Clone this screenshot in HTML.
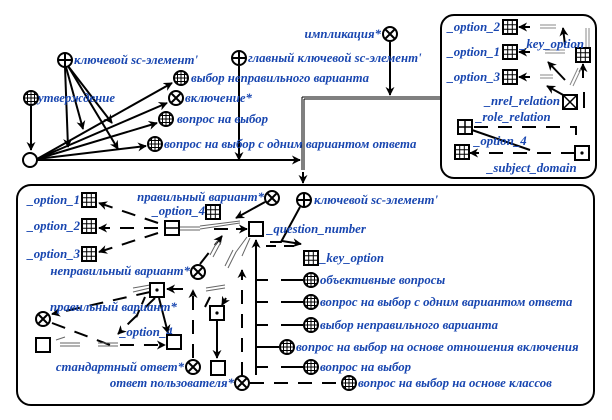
<!DOCTYPE html>
<html><head><meta charset="utf-8"><style>
html,body{margin:0;padding:0;background:#fff;width:612px;height:420px;overflow:hidden}
text{font-family:"Liberation Serif",serif;font-style:italic;font-weight:bold;font-size:12.8px;fill:#1846b0}
</style></head><body>
<svg width="612" height="420" viewBox="0 0 612 420" xmlns="http://www.w3.org/2000/svg">
<defs>
<marker id="a" viewBox="0 0 10 10" refX="9" refY="5" markerWidth="9" markerHeight="9" orient="auto" markerUnits="userSpaceOnUse"><path d="M0,0 L10,5 L0,10 L3,5 z" fill="#000"/></marker>
<clipPath id="cc"><circle r="7"/></clipPath>
<g id="gc"><circle r="7" fill="#fff" stroke="#000" stroke-width="2"/><g clip-path="url(#cc)" stroke="#000" stroke-width="1"><path d="M-7,-3.5H7M-7,0H7M-7,3.5H7M-3.5,-7V7M0,-7V7M3.5,-7V7"/></g></g>
<g id="xc"><circle r="7" fill="#fff" stroke="#000" stroke-width="2"/><path d="M-4.5,-4.5L4.5,4.5M4.5,-4.5L-4.5,4.5" stroke="#000" stroke-width="2"/></g>
<g id="pc"><circle r="7" fill="#fff" stroke="#000" stroke-width="2"/><path d="M-7,0H7M0,-7V7" stroke="#000" stroke-width="2"/></g>
<g id="gs"><rect x="-7" y="-7" width="14" height="14" fill="#fff" stroke="#000" stroke-width="2"/><path d="M-7,-2.3H7M-7,2.3H7M-2.3,-7V7M2.3,-7V7" stroke="#000" stroke-width="1"/></g>
<g id="es"><rect x="-7" y="-7" width="14" height="14" fill="#fff" stroke="#000" stroke-width="2"/></g>
<g id="ds"><rect x="-7" y="-7" width="14" height="14" fill="#fff" stroke="#000" stroke-width="2"/><circle r="1.6" fill="#000"/></g>
<g id="xs"><rect x="-7" y="-7" width="14" height="14" fill="#fff" stroke="#000" stroke-width="2"/><path d="M-7,-7L7,7M7,-7L-7,7" stroke="#000" stroke-width="1.5"/></g>
<g id="s4"><rect x="-7" y="-7" width="14" height="14" fill="#fff" stroke="#000" stroke-width="2"/><path d="M-7,0H7M0,-7V7" stroke="#000" stroke-width="1.5"/></g>
<g id="hs"><rect x="-7" y="-7" width="14" height="14" fill="#fff" stroke="#000" stroke-width="2"/><path d="M-7,0H7" stroke="#000" stroke-width="1.5"/></g>
</defs>

<g stroke="#000" stroke-width="2" fill="none">
<line x1="31" y1="106" x2="31" y2="150" marker-end="url(#a)"/>
<line x1="37" y1="160" x2="300" y2="160" marker-end="url(#a)"/>
<line x1="37" y1="159" x2="172" y2="83" marker-end="url(#a)"/>
<line x1="37" y1="159" x2="167" y2="103" marker-end="url(#a)"/>
<line x1="37" y1="159" x2="157" y2="123" marker-end="url(#a)"/>
<line x1="37" y1="159" x2="146" y2="146" marker-end="url(#a)"/>
<line x1="65" y1="67" x2="68" y2="147" marker-end="url(#a)"/>
<line x1="66" y1="67" x2="83" y2="129" marker-end="url(#a)"/>
<line x1="68" y1="66" x2="112" y2="123" marker-end="url(#a)"/>
<line x1="68" y1="66" x2="118" y2="149" marker-end="url(#a)"/>
<line x1="239" y1="66" x2="239" y2="160" marker-end="url(#a)"/>
<line x1="390" y1="42" x2="390" y2="95" marker-end="url(#a)"/>
</g>
<path d="M302,97 H440 M304,99 H440 M302,97 V170 M304,99 V170" stroke="#000" stroke-width="1" fill="none"/>
<path d="M303,172 V183" stroke="#000" stroke-width="2" marker-end="url(#a)"/>

<use href="#pc" transform="translate(65,60)"/><text x="74" y="64">ключевой sc-элемент'</text>
<use href="#gc" transform="translate(31,98)"/><text x="38" y="102">утверждение</text>
<circle cx="30" cy="160" r="7" fill="#fff" stroke="#000" stroke-width="2"/>
<use href="#pc" transform="translate(239,58)"/><text x="248" y="62">главный ключевой sc-элемент'</text>
<use href="#xc" transform="translate(390,34)"/><text x="381" y="38" text-anchor="end">импликация*</text>
<use href="#gc" transform="translate(181,78)"/><text x="191" y="82">выбор неправильного варианта</text>
<use href="#xc" transform="translate(176,98)"/><text x="185" y="102">включение*</text>
<use href="#gc" transform="translate(166,119)"/><text x="177" y="123">вопрос на выбор</text>
<use href="#gc" transform="translate(155,144)"/><text x="164" y="148">вопрос на выбор с одним вариантом ответа</text>

<rect x="441" y="15" width="155" height="163" rx="13" fill="none" stroke="#000" stroke-width="2"/>
<g stroke="#000" stroke-width="2" fill="none">
<path d="M530,27 H519" marker-end="url(#a)"/>
<path d="M530,52 H519" marker-end="url(#a)"/>
<path d="M530,77 H519" marker-end="url(#a)"/>
<path d="M565,96 L547,86" marker-end="url(#a)"/>
<path d="M565,80 L548,62" marker-end="url(#a)"/>
<path d="M565,45 L563,28" marker-end="url(#a)"/>
<path d="M583,78 V64" marker-end="url(#a)"/>
<path d="M584,92 V108" />
<path d="M474,127 H576 V146" stroke-dasharray="14,10"/>
<path d="M472,130 L530,150" />
<path d="M575,153 H470" stroke-dasharray="14,10" marker-end="url(#a)"/>
</g>
<path d="M540,25 H556 M540,28 H556 M545,50 H565 M545,53 H565 M540,75 H553 M540,78 H553 M586,28 V47 M589,28 V47 M570,85 L578,68 M573,86 L581,69" stroke="#888" stroke-width="1"/>
<use href="#gs" transform="translate(510,27)"/><text x="500" y="31" text-anchor="end">_option_2</text>
<use href="#gs" transform="translate(510,52)"/><text x="500" y="56" text-anchor="end">_option_1</text>
<use href="#gs" transform="translate(510,77)"/><text x="500" y="81" text-anchor="end">_option_3</text>
<use href="#gs" transform="translate(583,55)"/><text x="520" y="48">_key_option</text>
<use href="#xs" transform="translate(570,102)"/><text x="560" y="105" text-anchor="end">_nrel_relation</text>
<use href="#s4" transform="translate(465,127)"/><text x="476" y="121">_role_relation</text>
<use href="#gs" transform="translate(462,152)"/><text x="474" y="145">_option_4</text>
<use href="#ds" transform="translate(582,153)"/><text x="487" y="172">_subject_domain</text>

<rect x="17" y="185" width="577" height="220" rx="14" fill="none" stroke="#000" stroke-width="2"/>
<g stroke="#000" stroke-width="2" fill="none">
<path d="M158,223 L99,203" stroke-dasharray="14,10" marker-end="url(#a)"/>
<path d="M158,228 H99" stroke-dasharray="14,10" marker-end="url(#a)"/>
<path d="M158,233 L99,252" stroke-dasharray="14,10" marker-end="url(#a)"/>
<path d="M265,202 L236,218" marker-end="url(#a)"/>
<path d="M300,207 L281,242 H270" />
<path d="M282,241 L301,244" marker-end="url(#a)"/>
<path d="M266,246 H300" stroke-dasharray="10,8"/>
<path d="M200,264 L222,236" stroke-dasharray="14,10" marker-end="url(#a)"/>
<path d="M214,229 H247" stroke-dasharray="14,8" marker-end="url(#a)"/>
<path d="M183,289 H167" marker-end="url(#a)"/>
<path d="M150,292 L52,314" stroke-dasharray="14,10" marker-end="url(#a)"/>
<path d="M52,323 L110,345 H165" stroke-dasharray="14,10" marker-end="url(#a)"/>
<path d="M155,298 L130,322 L118,334" stroke-dasharray="14,10" marker-end="url(#a)"/>
<path d="M145,297 L135,320" stroke-dasharray="8,6"/>
<path d="M159,298 L168,333" marker-end="url(#a)"/>
<path d="M210,297 L205,307" />
<path d="M226,298 L222,305" marker-end="url(#a)"/>
<path d="M217,321 V358" marker-end="url(#a)"/>
<path d="M193,358 V290" stroke-dasharray="14,10" marker-end="url(#a)"/>
<path d="M242,376 V270" stroke-dasharray="14,10" marker-end="url(#a)"/>
<path d="M256,375 V240" marker-end="url(#a)"/>
<path d="M250,383 H341" stroke-dasharray="14,10"/>
<path d="M256,280 H268 M281,280 H303 M256,302 H268 M281,302 H303 M256,325 H268 M281,325 H303 M256,347 H279 M256,367 H268 M281,367 H303"/>
</g>
<path d="M178,227 H200 M178,230 H200 M200,226 L240,221 M200,229 L240,223 M206,288 L225,285 M206,291 L225,288 M60,343 H80 M60,346 H80 M98,343 H118 M98,346 H118 M56,340 L65,337 M210,255 L218,240 M213,257 L221,242 M225,266 L233,250 M228,268 L236,252 M247,237 L236,252 M250,238 L242,256 M133,288 L150,285 M133,292 L150,288" stroke="#666" stroke-width="1"/>

<use href="#gs" transform="translate(89,200)"/><text x="80" y="204" text-anchor="end">_option_1</text>
<use href="#gs" transform="translate(89,226)"/><text x="80" y="230" text-anchor="end">_option_2</text>
<use href="#gs" transform="translate(89,254)"/><text x="80" y="258" text-anchor="end">_option_3</text>
<use href="#hs" transform="translate(172,228)"/>
<use href="#xc" transform="translate(272,198)"/><text x="264" y="201" text-anchor="end">правильный вариант*</text>
<use href="#gs" transform="translate(213,212)"/><text x="205" y="215" text-anchor="end">_option_4</text>
<use href="#es" transform="translate(256,229)"/><text x="267" y="233">_question_number</text>
<use href="#pc" transform="translate(304,200)"/><text x="314" y="204">ключевой sc-элемент'</text>
<use href="#gs" transform="translate(311,258)"/><text x="320" y="262">_key_option</text>
<use href="#xc" transform="translate(198,272)"/><text x="190" y="275" text-anchor="end">неправильный вариант*</text>
<use href="#ds" transform="translate(157,290)"/>
<text x="50" y="311">правильный вариант*</text>
<use href="#xc" transform="translate(43,319)"/>
<use href="#es" transform="translate(43,345)"/>
<text x="120" y="336">_option_4</text>
<use href="#es" transform="translate(174,342)"/>
<use href="#ds" transform="translate(217,313)"/>
<use href="#es" transform="translate(218,368)"/>
<use href="#xc" transform="translate(193,367)"/><text x="184" y="371" text-anchor="end">стандартный ответ*</text>
<use href="#xc" transform="translate(242,383)"/><text x="234" y="387" text-anchor="end">ответ пользователя*</text>
<use href="#gc" transform="translate(311,280)"/><text x="320" y="284">объективные вопросы</text>
<use href="#gc" transform="translate(311,302)"/><text x="320" y="306">вопрос на выбор с одним вариантом ответа</text>
<use href="#gc" transform="translate(311,325)"/><text x="320" y="329">выбор неправильного варианта</text>
<use href="#gc" transform="translate(287,347)"/><text x="296" y="351">вопрос на выбор на основе отношения включения</text>
<use href="#gc" transform="translate(311,367)"/><text x="320" y="371">вопрос на выбор</text>
<use href="#gc" transform="translate(349,383)"/><text x="358" y="387">вопрос на выбор на основе классов</text>
</svg>
</body></html>
